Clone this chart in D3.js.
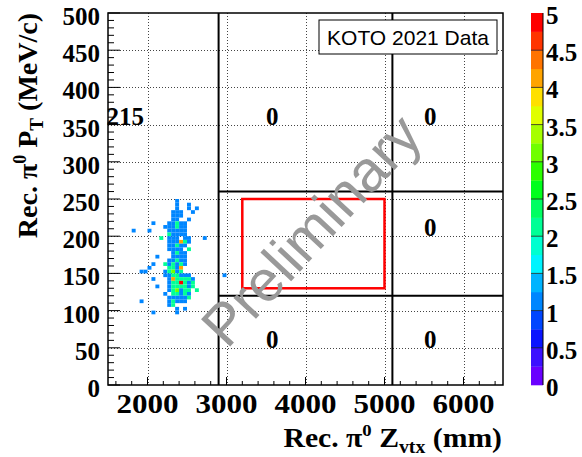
<!DOCTYPE html>
<html>
<head>
<meta charset="utf-8">
<script src="https://cdn.jsdelivr.net/npm/d3@7"></script>
<style>
  html, body { margin: 0; padding: 0; background: #fff; }
  svg { display: block; }
</style>
</head>
<body>
<svg id="chart" width="582" height="457"></svg>
<script>
// ---- data -------------------------------------------------------------
const zTicks = [2000, 3000, 4000, 5000, 6000];
const ptTicks = [0, 50, 100, 150, 200, 250, 300, 350, 400, 450, 500];
const colorTicks = [0, 0.5, 1, 1.5, 2, 2.5, 3, 3.5, 4, 4.5, 5];
const colorTickLabels = ["0", "0.5", "1", "1.5", "2", "2.5", "3", "3.5", "4", "4.5", "5"];

// 20 contour colours, 0 -> 5 in steps of 0.25
const palette = [
  "#6a00ff", "#3c10ff", "#0a14ff", "#0046ff", "#0086ff",
  "#00b4ff", "#00f4ff", "#00ffd0", "#00ff96", "#00ff62",
  "#00ff1c", "#2cff00", "#70ff00", "#a6ff00", "#e0ff00",
  "#ffe000", "#ffa400", "#ff7400", "#ff3400", "#ff0000"
];

// [Z bin start (mm), PT bin start (MeV/c), entries]; bins are 50 mm x 5 MeV/c
const binCounts = [
  [2350,245,1],
  [2350,240,1],[2500,240,1],
  [2350,235,1],[2500,235,1],[2600,235,1],
  [2300,230,1],[2350,230,1],[2400,230,1],[2550,230,1],
  [2300,225,1],[2350,225,1],[2400,225,1],
  [2300,220,1],[2350,220,1],[2500,220,1],
  [2050,215,1],[2250,215,1],[2300,215,1],[2350,215,2],[2400,215,1],[2450,215,1],
  [2200,210,1],[2250,210,1],[2300,210,1],[2350,210,2],[2400,210,1],[2450,210,1],
  [1800,205,1],[2000,205,1],[2250,205,1],[2300,205,1],[2350,205,1],[2400,205,1],[2450,205,1],
  [2250,200,2],[2300,200,1],[2350,200,1],[2400,200,1],[2450,200,1],
  [2150,195,2],[2250,195,1],[2300,195,1],[2350,195,1],[2450,195,1],[2500,195,1],[2700,195,1],
  [2250,190,1],[2300,190,1],[2350,190,1],[2400,190,4],[2450,190,2],[2500,190,1],
  [2250,185,1],[2300,185,1],[2350,185,2],[2400,185,1],[2450,185,1],
  [2250,180,1],[2300,180,1],[2350,180,1],[2400,180,1],[2500,180,2],
  [2300,175,1],[2350,175,2],[2400,175,1],[2450,175,1],
  [2100,170,1],[2300,170,1],[2350,170,1],[2400,170,1],[2450,170,1],
  [2250,165,1],[2300,165,1],[2350,165,2],[2400,165,1],[2450,165,1],
  [2050,160,1],[2200,160,2],[2250,160,1],[2300,160,2],[2350,160,1],[2400,160,2],[2450,160,1],
  [2000,155,1],[2250,155,2],[2300,155,2],[2350,155,1],[2400,155,4],
  [1900,150,1],[1950,150,1],[2200,150,1],[2250,150,2],[2300,150,3],[2350,150,1],[2400,150,2],
  [2200,145,1],[2250,145,1],[2300,145,2],[2350,145,2],[2400,145,1],[2450,145,1],[2500,145,1],[2950,145,1],
  [2050,140,1],[2250,140,1],[2300,140,4],[2350,140,2],[2400,140,2],[2450,140,2],[2500,140,2],[2550,140,1],
  [2250,135,1],[2300,135,2],[2350,135,2],[2400,135,5],[2450,135,2],[2500,135,1],[2550,135,2],
  [2100,130,1],[2250,130,1],[2300,130,2],[2350,130,2],[2400,130,2],[2450,130,2],[2500,130,1],[2550,130,2],
  [2250,125,1],[2300,125,2],[2350,125,3],[2400,125,1],[2450,125,2],[2500,125,2],[2600,125,2],
  [2200,120,1],[2300,120,2],[2350,120,2],[2400,120,1],[2450,120,2],[2500,120,1],
  [2250,115,1],[2300,115,1],[2350,115,1],[2400,115,1],[2450,115,1],[2500,115,2],
  [1900,110,1],[2250,110,1],[2300,110,2],[2350,110,1],[2400,110,1],[2450,110,1],
  [2250,105,1],[2300,105,2],
  [2350,100,1],[2450,100,1],
  [2050,95,1],[2350,95,1]
];
const zBinWidth = 50;
const ptBinWidth = 5;

// region boundaries
const zCuts = [2900, 5100];
const ptCuts = [120, 260];
// signal box [zMin, zMax, ptMin, ptMax]
const signalBox = [3200, 5000, 130, 250];
// counted regions [zMin, zMax, ptMin, ptMax] and where their count is written
const regions = [
  [1500, 2900, 0, 500],
  [2900, 5100, 260, 500],
  [5100, 6500, 260, 500],
  [5100, 6500, 120, 260],
  [2900, 5100, 0, 120],
  [5100, 6500, 0, 120]
];
const regionLabelAt = [[1480, 350], [3500, 350], [5500, 350], [5500, 200], [3500, 50], [5500, 50]];

// ---- layout -------------------------------------------------------------
const svg = d3.select("#chart");
const frame = { left: 108, top: 13, right: 503, bottom: 385 };
const serif = "'Liberation Serif', 'Times New Roman', serif";
const sans = "'Liberation Sans', Arial, sans-serif";

const x = d3.scaleLinear().domain([1500, 6500]).range([frame.left, frame.right]);
const y = d3.scaleLinear().domain([0, 500]).range([frame.bottom, frame.top]);
const cScale = d3.scaleLinear().domain([0, 5]).range([frame.bottom, frame.top]);
const colorOf = v => palette[Math.max(0, Math.min(palette.length - 1, Math.floor(v / 0.25)))];

// grid (dotted) at major ticks
const grid = svg.append("g").attr("stroke", "#444").attr("stroke-width", 1)
  .attr("stroke-dasharray", "1,2");
grid.selectAll("line.gx").data(zTicks).join("line")
  .attr("x1", d => Math.round(x(d)) + 0.5).attr("x2", d => Math.round(x(d)) + 0.5)
  .attr("y1", frame.top).attr("y2", frame.bottom);
grid.selectAll("line.gy").data(ptTicks.filter(d => d > 0 && d < 500)).join("line")
  .attr("y1", d => Math.round(y(d)) + 0.5).attr("y2", d => Math.round(y(d)) + 0.5)
  .attr("x1", frame.left).attr("x2", frame.right);

// histogram cells
svg.append("g").selectAll("rect").data(binCounts).join("rect")
  .attr("x", d => x(d[0]))
  .attr("y", d => y(d[1] + ptBinWidth))
  .attr("width", d => x(d[0] + zBinWidth) - x(d[0]))
  .attr("height", d => y(d[1]) - y(d[1] + ptBinWidth))
  .attr("fill", d => colorOf(d[2]));

// region boundaries
const cuts = svg.append("g").attr("stroke", "#000").attr("stroke-width", 2);
cuts.selectAll("line.vz").data(zCuts).join("line")
  .attr("x1", d => x(d)).attr("x2", d => x(d))
  .attr("y1", y(0)).attr("y2", y(500));
cuts.selectAll("line.hp").data(ptCuts).join("line")
  .attr("x1", x(zCuts[0])).attr("x2", x(6500))
  .attr("y1", d => y(d)).attr("y2", d => y(d));

// signal box
svg.append("rect")
  .attr("x", x(signalBox[0])).attr("y", y(signalBox[3]))
  .attr("width", x(signalBox[1]) - x(signalBox[0]))
  .attr("height", y(signalBox[2]) - y(signalBox[3]))
  .attr("fill", "none").attr("stroke", "#ff0000").attr("stroke-width", 2.5);

// event counts per region
const regionCount = r => d3.sum(binCounts.filter(b =>
  b[0] >= r[0] && b[0] < r[1] && b[1] >= r[2] && b[1] < r[3]), b => b[2]);
svg.append("g").selectAll("text").data(regions).join("text")
  .attr("x", (d, i) => x(regionLabelAt[i][0]))
  .attr("y", (d, i) => y(regionLabelAt[i][1]))
  .attr("font-family", serif).attr("font-weight", "bold").attr("font-size", 25)
  .text(d => regionCount(d));

// frame
svg.append("rect")
  .attr("x", frame.left).attr("y", frame.top)
  .attr("width", frame.right - frame.left).attr("height", frame.bottom - frame.top)
  .attr("fill", "none").attr("stroke", "#000").attr("stroke-width", 1.5);

// axes: ticks drawn inside the frame
const xMinor = d3.range(1600, 6500, 200);
svg.append("g").selectAll("line").data(xMinor).join("line")
  .attr("x1", d => x(d)).attr("x2", d => x(d))
  .attr("y1", frame.bottom).attr("y2", d => frame.bottom - (d % 1000 === 0 ? 8 : 4))
  .attr("stroke", "#000").attr("stroke-width", 1);
const yMinor = d3.range(0, 501, 10);
svg.append("g").selectAll("line").data(yMinor).join("line")
  .attr("y1", d => y(d)).attr("y2", d => y(d))
  .attr("x1", frame.left).attr("x2", d => frame.left + (d % 50 === 0 ? 12 : 6))
  .attr("stroke", "#000").attr("stroke-width", 1);

svg.append("g").selectAll("text").data(zTicks).join("text")
  .attr("transform", d => `translate(${x(d)},413) scale(1.15,1)`)
  .attr("text-anchor", "middle")
  .attr("font-family", serif).attr("font-weight", "bold").attr("font-size", 27)
  .text(d => d);
svg.append("g").selectAll("text").data(ptTicks).join("text")
  .attr("x", frame.left - 8).attr("y", d => y(d) + 12)
  .attr("text-anchor", "end")
  .attr("font-family", serif).attr("font-weight", "bold").attr("font-size", 25)
  .text(d => d);

// axis titles
const xt = svg.append("text")
  .attr("transform", "translate(502,447) scale(1.1,1)")
  .attr("text-anchor", "end")
  .attr("font-family", serif).attr("font-weight", "bold").attr("font-size", 27);
xt.append("tspan").text("Rec.  π");
xt.append("tspan").attr("font-size", 17).attr("dy", -11).text("0");
xt.append("tspan").attr("dy", 11).text(" Z");
xt.append("tspan").attr("font-size", 18).attr("dy", 6).text("vtx");
xt.append("tspan").attr("dy", -6).text(" (mm)");

const yt = svg.append("text")
  .attr("transform", "translate(37,13) rotate(-90)")
  .attr("text-anchor", "end")
  .attr("font-family", serif).attr("font-weight", "bold").attr("font-size", 28);
yt.append("tspan").text("Rec.  π");
yt.append("tspan").attr("font-size", 18).attr("dy", -11).text("0");
yt.append("tspan").attr("dy", 11).text(" P");
yt.append("tspan").attr("font-size", 19).attr("dy", 6).text("T");
yt.append("tspan").attr("dy", -6).text(" (MeV/c)");

// colour bar
const bar = { left: 531, right: 543 };
svg.append("g").selectAll("rect").data(palette).join("rect")
  .attr("x", bar.left).attr("width", bar.right - bar.left)
  .attr("y", (d, i) => cScale((i + 1) * 0.25))
  .attr("height", (d, i) => cScale(i * 0.25) - cScale((i + 1) * 0.25) + 0.3)
  .attr("fill", d => d);
svg.append("g").selectAll("line").data(colorTicks.slice(1, -1)).join("line")
  .attr("x1", bar.left).attr("x2", bar.right)
  .attr("y1", d => cScale(d)).attr("y2", d => cScale(d))
  .attr("stroke", "#222").attr("stroke-width", 0.8);
svg.append("line")
  .attr("x1", bar.right).attr("x2", bar.right)
  .attr("y1", frame.top).attr("y2", frame.bottom)
  .attr("stroke", "#000").attr("stroke-width", 1);
svg.append("g").selectAll("text").data(colorTicks).join("text")
  .attr("x", bar.right + 3).attr("y", d => cScale(d) + 11)
  .attr("font-family", serif).attr("font-weight", "bold").attr("font-size", 25)
  .text((d, i) => colorTickLabels[i]);

// data label box
svg.append("rect").attr("x", 319).attr("y", 20).attr("width", 178).attr("height", 34)
  .attr("fill", "#fff").attr("stroke", "#000").attr("stroke-width", 1);
svg.append("text").attr("x", 408).attr("y", 45).attr("text-anchor", "middle")
  .attr("font-family", sans).attr("font-size", 21).text("KOTO 2021 Data");

// watermark
svg.append("text")
  .attr("transform", "translate(311,230) rotate(-47)")
  .attr("text-anchor", "middle").attr("dy", "0.35em")
  .attr("font-family", sans).attr("font-size", 58)
  .attr("fill", "#999999")
  .text("Preliminary");
</script>
</body>
</html>
